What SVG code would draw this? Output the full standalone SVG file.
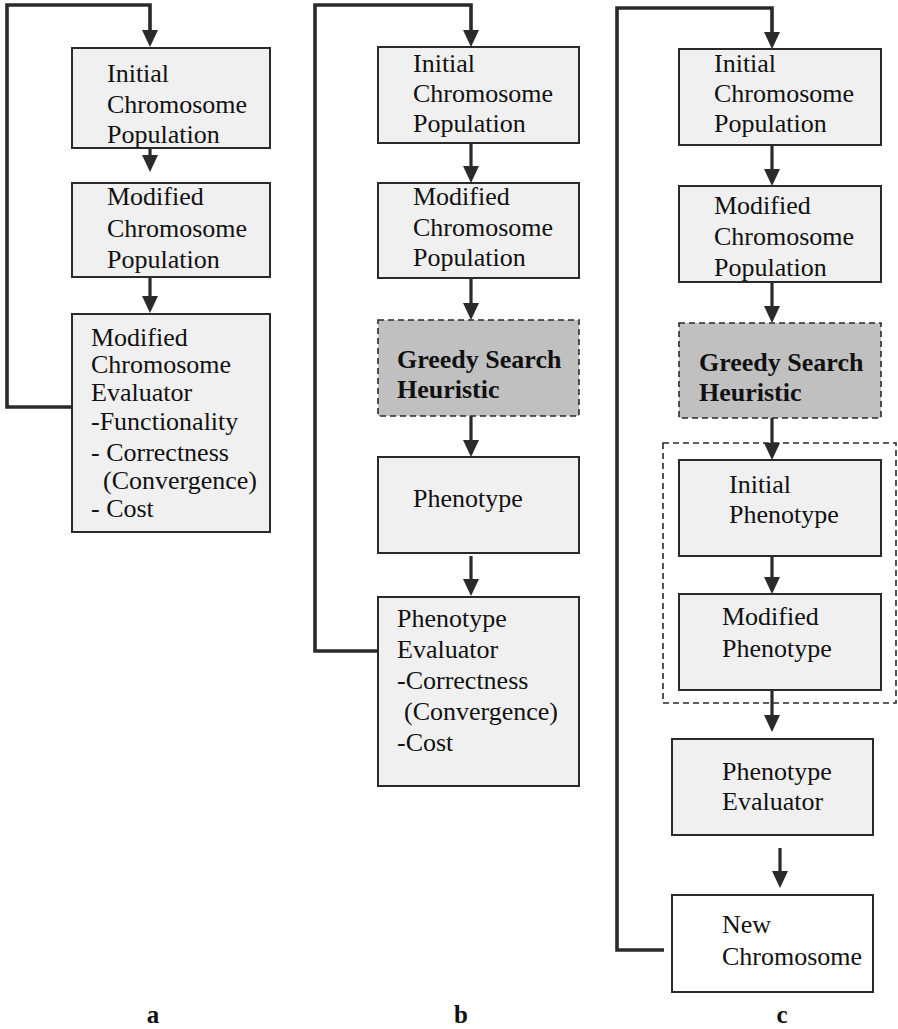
<svg xmlns="http://www.w3.org/2000/svg" xmlns:xlink="http://www.w3.org/1999/xlink" width="898" height="1029" viewBox="0 0 898 1029">
  <style>
    .box { fill: #f0f0f0; stroke: #2a2a2a; stroke-width: 2; }
    .plain { fill: #ffffff; stroke: #2a2a2a; stroke-width: 2; }
    .greedy { fill: #c0c0c0; stroke: #2a2a2a; stroke-width: 1.6; stroke-dasharray: 6 4; }
    .group { fill: none; stroke: #2a2a2a; stroke-width: 1.6; stroke-dasharray: 6 4; }
    .t { font-family: "Liberation Serif", "Times New Roman", serif; font-size: 26px; fill: #111; }
    .b { font-weight: bold; }
    .lbl { font-family: "Liberation Serif", "Times New Roman", serif; font-size: 25px; font-weight: bold; fill: #111; text-anchor: middle; }
    .flow { fill: none; stroke: #2a2a2a; stroke-width: 3.2; }
    .loop { fill: none; stroke: #2a2a2a; stroke-width: 3.6; stroke-linejoin: miter; }
  </style>
  <defs>
    <!-- downward arrowhead, tip at the origin -->
    <path id="head" d="M-8,-17 L8,-17 L0,0 Z" fill="#2a2a2a"/>
  </defs>

  <!-- Column a -->
  <g id="a-initial-population">
    <rect class="box" x="72" y="48" width="198" height="100"/>
    <text class="t" x="107" y="82">Initial</text>
    <text class="t" x="107" y="113">Chromosome</text>
    <text class="t" x="107" y="143">Population</text>
  </g>
  <g id="a-modified-population">
    <rect class="box" x="72" y="183" width="198" height="94"/>
    <text class="t" x="107" y="205">Modified</text>
    <text class="t" x="107" y="237">Chromosome</text>
    <text class="t" x="107" y="268">Population</text>
  </g>
  <g id="a-evaluator">
    <rect class="box" x="72" y="314" width="198" height="218"/>
    <text class="t" x="91" y="346">Modified</text>
    <text class="t" x="91" y="373">Chromosome</text>
    <text class="t" x="91" y="401">Evaluator</text>
    <text class="t" x="91" y="430">-Functionality</text>
    <text class="t" x="91" y="461">- Correctness</text>
    <text class="t" x="103" y="489">(Convergence)</text>
    <text class="t" x="91" y="517">- Cost</text>
  </g>

  <!-- Column b -->
  <g id="b-initial-population">
    <rect class="box" x="378" y="47" width="201" height="96"/>
    <text class="t" x="413" y="72">Initial</text>
    <text class="t" x="413" y="102">Chromosome</text>
    <text class="t" x="413" y="132">Population</text>
  </g>
  <g id="b-modified-population">
    <rect class="box" x="378" y="183" width="201" height="95"/>
    <text class="t" x="413" y="205">Modified</text>
    <text class="t" x="413" y="236">Chromosome</text>
    <text class="t" x="413" y="266">Population</text>
  </g>
  <g id="b-greedy">
    <rect class="greedy" x="378" y="320" width="201" height="96"/>
    <text class="t b" x="397" y="368">Greedy Search</text>
    <text class="t b" x="397" y="398">Heuristic</text>
  </g>
  <g id="b-phenotype">
    <rect class="box" x="378" y="457" width="201" height="96"/>
    <text class="t" x="413" y="507">Phenotype</text>
  </g>
  <g id="b-evaluator">
    <rect class="box" x="378" y="597" width="201" height="189"/>
    <text class="t" x="397" y="627">Phenotype</text>
    <text class="t" x="397" y="658">Evaluator</text>
    <text class="t" x="397" y="689">-Correctness</text>
    <text class="t" x="404" y="720">(Convergence)</text>
    <text class="t" x="397" y="751">-Cost</text>
  </g>

  <!-- Column c -->
  <g id="c-initial-population">
    <rect class="box" x="679" y="49" width="202" height="96"/>
    <text class="t" x="714" y="72">Initial</text>
    <text class="t" x="714" y="102">Chromosome</text>
    <text class="t" x="714" y="132">Population</text>
  </g>
  <g id="c-modified-population">
    <rect class="box" x="679" y="186" width="202" height="96"/>
    <text class="t" x="714" y="214">Modified</text>
    <text class="t" x="714" y="245">Chromosome</text>
    <text class="t" x="714" y="276">Population</text>
  </g>
  <g id="c-greedy">
    <rect class="greedy" x="679" y="323" width="202" height="95"/>
    <text class="t b" x="699" y="371">Greedy Search</text>
    <text class="t b" x="699" y="401">Heuristic</text>
  </g>
  <g id="c-phenotype-group">
    <rect class="group" x="663" y="443" width="233" height="260"/>
  </g>
  <g id="c-initial-phenotype">
    <rect class="box" x="679" y="460" width="202" height="96"/>
    <text class="t" x="729" y="493">Initial</text>
    <text class="t" x="729" y="523">Phenotype</text>
  </g>
  <g id="c-modified-phenotype">
    <rect class="box" x="679" y="594" width="202" height="96"/>
    <text class="t" x="722" y="625">Modified</text>
    <text class="t" x="722" y="657">Phenotype</text>
  </g>
  <g id="c-evaluator">
    <rect class="box" x="672" y="739" width="201" height="96"/>
    <text class="t" x="722" y="780">Phenotype</text>
    <text class="t" x="722" y="810">Evaluator</text>
  </g>
  <g id="c-new-chromosome">
    <rect class="plain" x="672" y="895" width="201" height="97"/>
    <text class="t" x="722" y="933">New</text>
    <text class="t" x="722" y="965">Chromosome</text>
  </g>

  <!-- Connectors -->
  <g id="connectors">
    <!-- a -->
    <polyline class="loop" points="72,407 7,407 7,5 150,5 150,33"/>
    <use xlink:href="#head" x="150" y="47"/>
    <line class="flow" x1="150" y1="148" x2="150" y2="158"/>
    <use xlink:href="#head" x="150" y="172"/>
    <line class="flow" x1="150" y1="277" x2="150" y2="299"/>
    <use xlink:href="#head" x="150" y="313"/>

    <!-- b -->
    <polyline class="loop" points="378,651 315,651 315,5 471,5 471,33"/>
    <use xlink:href="#head" x="471" y="47"/>
    <line class="flow" x1="471" y1="143" x2="471" y2="169"/>
    <use xlink:href="#head" x="471" y="183"/>
    <line class="flow" x1="471" y1="278" x2="471" y2="306"/>
    <use xlink:href="#head" x="471" y="320"/>
    <line class="flow" x1="471" y1="416" x2="471" y2="443"/>
    <use xlink:href="#head" x="471" y="457"/>
    <line class="flow" x1="471" y1="556" x2="471" y2="582"/>
    <use xlink:href="#head" x="471" y="596"/>

    <!-- c -->
    <polyline class="loop" points="664,950 617,950 617,8 772,8 772,35"/>
    <use xlink:href="#head" x="772" y="49"/>
    <line class="flow" x1="772" y1="145" x2="772" y2="172"/>
    <use xlink:href="#head" x="772" y="186"/>
    <line class="flow" x1="772" y1="282" x2="772" y2="309"/>
    <use xlink:href="#head" x="772" y="323"/>
    <line class="flow" x1="772" y1="418" x2="772" y2="446"/>
    <use xlink:href="#head" x="772" y="460"/>
    <line class="flow" x1="772" y1="556" x2="772" y2="580"/>
    <use xlink:href="#head" x="772" y="594"/>
    <line class="flow" x1="772" y1="690" x2="772" y2="718"/>
    <use xlink:href="#head" x="772" y="732"/>
    <line class="flow" x1="780" y1="848" x2="780" y2="874"/>
    <use xlink:href="#head" x="780" y="888"/>
  </g>

  <!-- Panel labels -->
  <g id="labels">
    <text class="lbl" x="153" y="1023">a</text>
    <text class="lbl" x="461" y="1023">b</text>
    <text class="lbl" x="782" y="1023">c</text>
  </g>
</svg>
